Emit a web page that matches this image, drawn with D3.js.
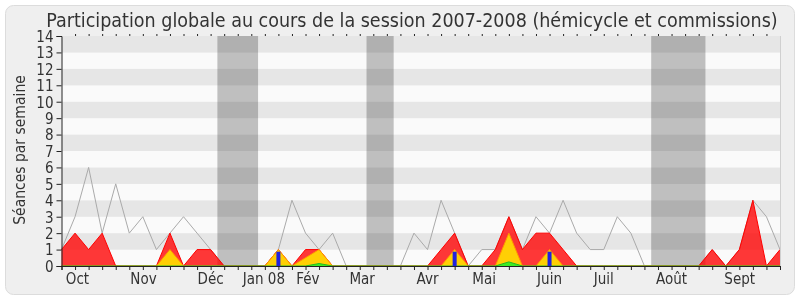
<!DOCTYPE html>
<html><head><meta charset="utf-8">
<script src="https://cdn.jsdelivr.net/npm/d3@7"></script>
<style>
html,body{margin:0;padding:0;background:#fff;}
text{font-family:"DejaVu Sans Condensed","DejaVu Sans",sans-serif;font-stretch:condensed;}
</style></head>
<body><svg id="c" width="800" height="300"></svg>
<script>
// ---- data ----
const weeks = d3.range(54);
const totalSeances = [1,3,6,2,5,2,3,1,2,3,2,1,0,0,0,0,1,4,2,1,2,0,0,0,0,0,2,1,4,2,0,1,1,3,1,3,2,4,2,1,1,3,2,0,0,0,0,0,1,0,1,4,3,1];
const commission   = [1,2,1,2,0,0,0,0,2,0,1,1,0,0,0,0,1,0,1,1,0,0,0,0,0,0,0,0,1,2,0,0,1,3,1,2,2,1,0,0,0,0,0,0,0,0,0,0,1,0,1,4,0,1];
const hemicycle    = [0,0,0,0,0,0,0,0,1,0,0,0,0,0,0,0,1,0,0.5,1,0,0,0,0,0,0,0,0,0,1,0,0,0,2,0,0,1,0,0,0,0,0,0,0,0,0,0,0,0,0,0,0,0,0];
const interventions= [0,0,0,0,0,0,0,0,0,0,0,0,0,0,0,0,0,0,0,0.15,0,0,0,0,0,0,0,0,0,0,0,0,0,0.25,0,0,0,0,0,0,0,0,0,0,0,0,0,0,0,0,0,0,0,0];
const questions    = [0,0,0,0,0,0,0,0,0,0,0,0,0,0,0,0,0.87,0,0,0,0,0,0,0,0,0,0,0,0,0.87,0,0,0,0,0,0,0.87,0,0,0,0,0,0,0,0,0,0,0,0,0,0,0,0,0];
const vacStart = [11.5, 22.5, 43.5];
const vacEnd   = [14.5, 24.5, 47.5];
const monthLabels = ["Oct","Nov","Déc","Jan 08","Fév","Mar","Avr","Mai","Juin","Juil","Août","Sept"];
const monthWeeks  = [1.18, 6.05, 11, 14.93, 18.17, 22.18, 27, 31.18, 36, 40, 45, 50.03];
const yTicks = d3.range(0,15);
const title = "Participation globale au cours de la session 2007-2008 (hémicycle et commissions)";
const yLabel = "Séances par semaine";

// ---- chart ----
const svg = d3.select("#c");
svg.append("rect").attr("x",5.5).attr("y",5.5).attr("width",789).attr("height",289)
  .attr("rx",8).attr("fill","#efefef").attr("stroke","#dcdcdc");

const x = d3.scaleLinear().domain([0,53]).range([61.5,780]);
const y = d3.scaleLinear().domain([0,14]).range([266,36]);

const g = svg.append("g");
// stripes
g.selectAll("rect.stripe").data(d3.range(14)).join("rect")
  .attr("x",x(0)).attr("width",x(53)-x(0))
  .attr("y",d=>y(d+1)).attr("height",d=>y(d)-y(d+1))
  .attr("fill",d=> d%2===1 ? "#e6e6e6" : "#fafafa");
// vacations
g.selectAll("rect.vac").data(vacStart).join("rect")
  .attr("x",(d)=>x(d)).attr("width",(d,i)=>x(vacEnd[i])-x(d))
  .attr("y",y(14)).attr("height",y(0)-y(14))
  .attr("fill","#c3c3c3").style("mix-blend-mode","multiply");

// total line
g.append("path").datum(weeks)
  .attr("d",d3.line().x(i=>x(i)).y(i=>y(totalSeances[i])))
  .attr("fill","none").attr("stroke","#aaaaaa").attr("stroke-width",1);

const area = arr => d3.area().x(i=>x(i)).y0(y(0)).y1(i=>y(arr[i]))(weeks);
const line = arr => d3.line().x(i=>x(i)).y(i=>y(arr[i]))(weeks);

g.append("path").attr("d",area(commission)).attr("fill","rgba(255,0,0,0.78)");
g.append("path").attr("d",line(commission)).attr("fill","none").attr("stroke","#ff0000").attr("stroke-width",1);
g.append("path").attr("d",area(hemicycle)).attr("fill","rgba(255,220,0,0.92)");
g.append("path").attr("d",line(hemicycle)).attr("fill","none").attr("stroke","#ff9900").attr("stroke-width",1);
g.append("path").attr("d",area(interventions)).attr("fill","rgba(40,240,40,0.9)");
g.append("path").attr("d",line(interventions)).attr("fill","none").attr("stroke","#22bb22").attr("stroke-width",1);

// questions bars
g.selectAll("rect.q").data(weeks.filter(i=>questions[i]>0)).join("rect")
  .attr("x",i=>x(i)-2).attr("width",4)
  .attr("y",i=>y(questions[i])).attr("height",i=>y(0)-y(questions[i]))
  .attr("fill","#2222dd");

// right border
g.append("line").attr("x1",780.5).attr("x2",780.5).attr("y1",36).attr("y2",266).attr("stroke","#d0d0d0");

// axes
const ax = svg.append("g").attr("transform",`translate(0,266)`)
  .call(d3.axisBottom(x).tickValues(weeks).tickSize(4).tickFormat(""));
ax.select(".domain").attr("stroke","#222");
ax.selectAll(".tick line").attr("stroke","#222");

const at = svg.append("g").attr("transform",`translate(0,36)`)
  .call(d3.axisTop(x).tickValues(weeks.slice(1,53)).tickSize(2).tickFormat(""));
at.select(".domain").remove();
at.selectAll(".tick line").attr("stroke","#222");

const ay = svg.append("g").attr("transform",`translate(61.5,0)`)
  .call(d3.axisLeft(y).tickValues(yTicks).tickSize(5).tickPadding(3).tickFormat(d3.format("d")));
ay.select(".domain").attr("stroke","#222");
ay.selectAll(".tick line").attr("stroke","#222");
ay.selectAll(".tick text").attr("font-size",15).attr("fill","#333")
  .style("font-family",'"DejaVu Sans Condensed","DejaVu Sans",sans-serif').attr("dy","0.36em");

svg.selectAll("text.month").data(monthLabels).join("text")
  .attr("x",(d,i)=>x(monthWeeks[i])).attr("y",284)
  .attr("text-anchor","middle").attr("font-size",15).attr("fill","#333").text(d=>d);

svg.append("text").attr("x",412).attr("y",26.5).attr("text-anchor","middle")
  .attr("font-size",19.5).attr("fill","#333").text(title);

svg.append("text").attr("transform","translate(24.5,150) rotate(-90)").attr("text-anchor","middle")
  .attr("font-size",15.5).attr("fill","#333").text(yLabel);
</script></body></html>
